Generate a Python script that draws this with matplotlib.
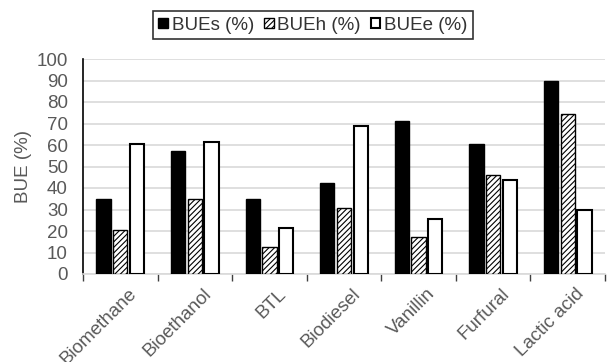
import matplotlib
matplotlib.use("Agg")
import matplotlib.pyplot as plt
import matplotlib.transforms as mtransforms
import numpy as np

plt.rcParams['font.family'] = ['Liberation Sans', 'DejaVu Sans']
plt.rcParams['hatch.linewidth'] = 0.8

categories = ["Biomethane", "Bioethanol", "BTL", "Biodiesel", "Vanillin", "Furfural", "Lactic acid"]
bue_s = [35, 57, 35, 42.5, 71, 60.5, 90]
bue_h = [20.5, 35, 12.5, 30.5, 17, 46, 74.5]
bue_e = [60.5, 61.5, 21.5, 69, 25.5, 43.5, 30]
series_names = ["BUEs (%)", "BUEh (%)", "BUEe (%)"]
yticks = list(range(0, 101, 10))

fig = plt.figure(figsize=(6.12, 3.62), dpi=100)
ax = fig.add_axes([83/612, 1-274/362, (605-83)/612, (274-59)/362])

x = np.arange(len(categories))
w = 0.19
off = 0.224
ax.bar(x - off, bue_s, w, color='black', edgecolor='black', linewidth=1, label=series_names[0], zorder=3)
ax.bar(x, bue_h, w, color='white', edgecolor='black', hatch='//////', linewidth=1, label=series_names[1], zorder=3)
ax.bar(x + off, bue_e, w, color='white', edgecolor='black', linewidth=1.5, label=series_names[2], zorder=3)

ax.set_xlim(-0.5, len(categories) - 0.5)
ax.set_ylim(0, 100)
ax.set_yticks(yticks)
ax.yaxis.grid(True, color='#d9d9d9', linewidth=1.2, zorder=0)
ax.set_axisbelow(True)
for s in ['top', 'right']:
    ax.spines[s].set_visible(False)
ax.spines['left'].set_color('black')
ax.spines['left'].set_linewidth(1.2)
ax.spines['bottom'].set_color('#d9d9d9')
ax.spines['bottom'].set_linewidth(1.2)
ax.tick_params(axis='y', length=0, labelsize=13.5, labelcolor='#595959', pad=11)
ax.set_xticks(x)
ax.set_xticklabels(categories, rotation=45, ha='right', rotation_mode='anchor', fontsize=13.5, color='#595959')
ax.tick_params(axis='x', length=0, pad=8)
shift = mtransforms.ScaledTranslation(8/100, 0, fig.dpi_scale_trans)
for lbl in ax.get_xticklabels():
    lbl.set_transform(lbl.get_transform() + shift)
ax.set_xticks(np.arange(len(categories) + 1) - 0.5, minor=True)
ax.tick_params(axis='x', which='minor', length=5, color='#404040', width=1)
ax.set_ylabel("BUE (%)", fontsize=13.5, color='#595959', labelpad=3)

leg = fig.legend(loc='center', bbox_to_anchor=(313/612, 1-25/362), ncol=3, frameon=True, fontsize=13.5,
                 fancybox=False, edgecolor='black', handlelength=0.5, handleheight=0.5,
                 handletextpad=0.2, columnspacing=0.55, borderpad=0.3)
leg.get_frame().set_linewidth(1.2)
for t in leg.get_texts():
    t.set_color('#333333')

fig.savefig("out.png", dpi=100)
